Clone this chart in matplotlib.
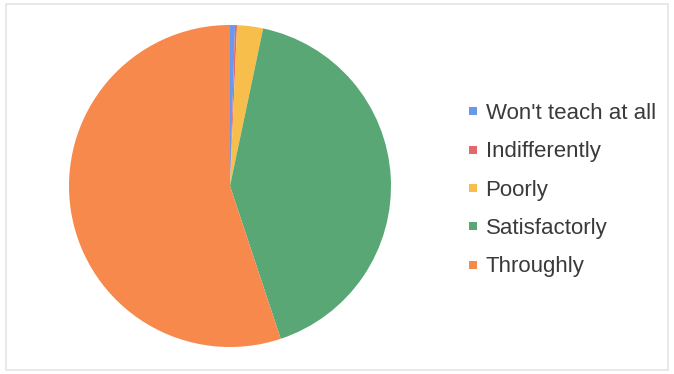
import matplotlib
matplotlib.use('Agg')
import matplotlib.pyplot as plt
from matplotlib.patches import Rectangle
from matplotlib.lines import Line2D

# slice shares (percent)
labels = ["Won't teach at all", 'Indifferently', 'Poorly', 'Satisfactorly', 'Throughly']
shares = [0.5, 0.2, 2.6, 41.6, 55.1]
colors = ['#6a98ec', '#e4676a', '#f8be4c', '#58a775', '#f6894b']

plt.rcParams['font.family'] = ['Liberation Sans', 'DejaVu Sans']

fig = plt.figure(figsize=(6.74, 3.74), dpi=100)
fig.patch.set_facecolor('white')

# faint frame round the chart
fig.add_artist(Rectangle((6 / 674, 4 / 374), 662 / 674, 366 / 374,
                         transform=fig.transFigure, fill=False,
                         edgecolor='#e4e4e4', linewidth=1.2))

# pie: centre ~ (230, 186) px, radius ~ 161 px
ax = fig.add_axes([(230 - 161) / 674, (374 - 186 - 161) / 374, 322 / 674, 322 / 374])
ax.pie(shares, colors=colors, startangle=90, counterclock=False,
       wedgeprops={'linewidth': 0})
ax.set_xlim(-1, 1)
ax.set_ylim(-1, 1)
ax.set_aspect('equal')
ax.axis('off')

# legend
handles = [Line2D([], [], marker='s', linestyle='', markersize=5.4,
                  markerfacecolor=c, markeredgewidth=0) for c in colors]
fig.legend(handles, labels, loc='upper left',
           bbox_to_anchor=(456 / 674, 1 - 92 / 374),
           frameon=False, fontsize=16, handlelength=0.5,
           handletextpad=0.33, labelspacing=0.78, borderpad=0,
           labelcolor='#3a3a3a')

fig.savefig('out.png', dpi=100)
